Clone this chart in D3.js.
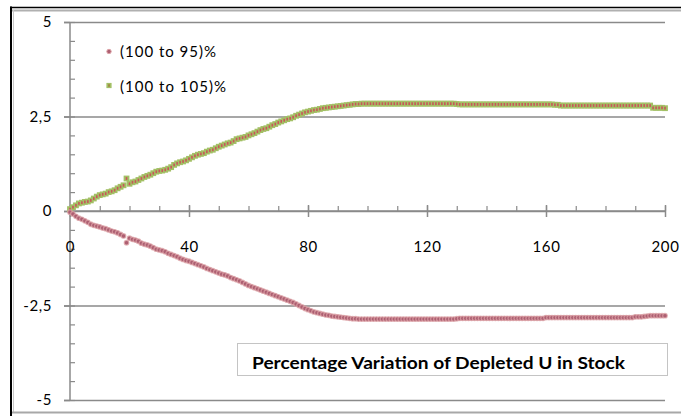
<!DOCTYPE html>
<html>
<head>
<meta charset="utf-8">
<script src="https://cdn.jsdelivr.net/npm/d3@7"></script>
<style>
  html, body { margin: 0; padding: 0; background: #fff; }
  svg { display: block; }
  text { font-family: Lato, "Open Sans", sans-serif; fill: #000; }
</style>
</head>
<body>
<svg id="chart" width="681" height="416"></svg>
<script>
// ---- data ----
const seriesNames = ["(100 to 95)%", "(100 to 105)%"];
const yTickValues = [-5, -2.5, 0, 2.5, 5];
const yTickLabels = ["-5", "-2,5", "0", "2,5", "5"];
const xTickValues = [0, 40, 80, 120, 160, 200];
const xTickLabels = ["0", "40", "80", "120", "160", "200"];
const titleText = "Percentage Variation of Depleted U in Stock";

// series "(100 to 95)%" (one value per step 0..200)
const down95 = [
  -0.03,-0.08,-0.14,-0.19,-0.22,-0.26,-0.30,-0.35,-0.38,-0.40,
  -0.42,-0.45,-0.47,-0.50,-0.53,-0.55,-0.58,-0.62,-0.66,-0.84,
  -0.72,-0.75,-0.77,-0.80,-0.85,-0.88,-0.90,-0.93,-0.97,-1.01,
  -1.03,-1.05,-1.08,-1.12,-1.15,-1.18,-1.21,-1.25,-1.28,-1.31,
  -1.33,-1.36,-1.39,-1.42,-1.45,-1.48,-1.52,-1.55,-1.58,-1.61,
  -1.64,-1.67,-1.69,-1.72,-1.76,-1.79,-1.82,-1.85,-1.89,-1.93,
  -1.97,-2.00,-2.03,-2.06,-2.09,-2.12,-2.15,-2.18,-2.21,-2.24,
  -2.27,-2.30,-2.33,-2.36,-2.39,-2.42,-2.46,-2.50,-2.54,-2.58,
  -2.61,-2.64,-2.67,-2.69,-2.71,-2.73,-2.75,-2.76,-2.78,-2.79,
  -2.80,-2.81,-2.82,-2.83,-2.84,-2.85,-2.85,-2.86,-2.86,-2.86,
  -2.86,-2.86,-2.86,-2.86,-2.86,-2.86,-2.86,-2.86,-2.86,-2.86,
  -2.86,-2.86,-2.86,-2.86,-2.86,-2.86,-2.86,-2.86,-2.86,-2.86,
  -2.86,-2.86,-2.86,-2.86,-2.86,-2.86,-2.86,-2.86,-2.86,-2.86,
  -2.85,-2.84,-2.84,-2.84,-2.84,-2.84,-2.84,-2.84,-2.84,-2.84,
  -2.84,-2.84,-2.84,-2.84,-2.84,-2.84,-2.84,-2.84,-2.84,-2.84,
  -2.84,-2.84,-2.84,-2.84,-2.84,-2.84,-2.84,-2.84,-2.84,-2.84,
  -2.82,-2.82,-2.82,-2.82,-2.82,-2.82,-2.82,-2.82,-2.82,-2.82,
  -2.82,-2.82,-2.82,-2.82,-2.82,-2.82,-2.82,-2.82,-2.82,-2.82,
  -2.82,-2.82,-2.82,-2.82,-2.82,-2.82,-2.82,-2.82,-2.82,-2.82,
  -2.80,-2.80,-2.80,-2.79,-2.78,-2.77,-2.77,-2.77,-2.77,-2.77,
  -2.77
];

// series "(100 to 105)%"
const up105 = [
  0.05,0.10,0.15,0.20,0.22,0.24,0.25,0.28,0.33,0.38,
  0.42,0.44,0.46,0.50,0.52,0.55,0.60,0.64,0.68,0.86,
  0.72,0.76,0.78,0.82,0.86,0.90,0.93,0.96,1.00,1.04,
  1.06,1.07,1.09,1.12,1.16,1.22,1.26,1.29,1.31,1.34,
  1.38,1.42,1.46,1.49,1.51,1.53,1.57,1.60,1.62,1.66,
  1.70,1.73,1.76,1.79,1.81,1.85,1.90,1.92,1.94,1.96,
  2.00,2.03,2.06,2.10,2.14,2.17,2.19,2.23,2.27,2.30,
  2.34,2.37,2.40,2.43,2.45,2.48,2.52,2.55,2.58,2.61,
  2.63,2.65,2.67,2.68,2.70,2.72,2.73,2.74,2.75,2.76,
  2.77,2.78,2.79,2.80,2.81,2.82,2.83,2.83,2.84,2.84,
  2.84,2.84,2.84,2.84,2.84,2.84,2.84,2.84,2.84,2.84,
  2.84,2.84,2.84,2.84,2.84,2.84,2.84,2.84,2.84,2.84,
  2.84,2.84,2.84,2.84,2.84,2.84,2.84,2.84,2.84,2.84,
  2.83,2.82,2.82,2.82,2.82,2.82,2.82,2.82,2.82,2.82,
  2.82,2.82,2.82,2.82,2.82,2.82,2.82,2.82,2.82,2.82,
  2.82,2.82,2.82,2.82,2.82,2.82,2.82,2.82,2.82,2.82,
  2.82,2.82,2.82,2.81,2.81,2.79,2.79,2.79,2.79,2.79,
  2.79,2.79,2.79,2.79,2.79,2.79,2.79,2.79,2.79,2.79,
  2.79,2.79,2.79,2.79,2.79,2.79,2.79,2.79,2.79,2.79,
  2.79,2.79,2.79,2.79,2.79,2.79,2.73,2.73,2.73,2.73,
  2.72
];

// ---- drawing ----
const svg = d3.select("#chart");
const x = d3.scaleLinear().domain([0, 200]).range([70, 665]);
const y = d3.scaleLinear().domain([-5, 5]).range([400, 22]);
const gray = "#8a8a8a";

// outer frame
svg.append("line").attr("x1", 11).attr("x2", 11).attr("y1", 6.5).attr("y2", 416)
  .attr("stroke", "#000").attr("stroke-width", 2);
svg.append("line").attr("x1", 10).attr("x2", 681).attr("y1", 7.5).attr("y2", 7.5)
  .attr("stroke", "#000").attr("stroke-width", 1.6);
svg.append("line").attr("x1", 12).attr("x2", 681).attr("y1", 10.5).attr("y2", 10.5)
  .attr("stroke", "#b0b0b0").attr("stroke-width", 2);
svg.append("line").attr("x1", 13.5).attr("x2", 13.5).attr("y1", 10).attr("y2", 413)
  .attr("stroke", "#c8c8c8").attr("stroke-width", 1);
svg.append("line").attr("x1", 12).attr("x2", 681).attr("y1", 412.5).attr("y2", 412.5)
  .attr("stroke", "#a8a8a8").attr("stroke-width", 2);

// gridlines (major y)
const grid = svg.append("g").attr("transform", `translate(${x(0)},0)`)
  .call(d3.axisRight(y).tickValues(yTickValues).tickSize(x(200) - x(0)).tickFormat(""));
grid.select(".domain").remove();
grid.selectAll(".tick line").attr("stroke", gray).attr("stroke-width", 1.5).attr("x1", -6);

// y axis
const yAxis = svg.append("g").attr("transform", `translate(${x(0)},0)`)
  .call(d3.axisLeft(y).tickValues(yTickValues).tickSize(6).tickPadding(12)
    .tickFormat((d, i) => yTickLabels[i]));
yAxis.select(".domain").attr("stroke", gray).attr("stroke-width", 1.5)
  .attr("d", `M0,${y(5)}V${y(-5)}`);
yAxis.selectAll(".tick line").attr("stroke", gray).attr("stroke-width", 1.5);
yAxis.selectAll(".tick text").style("font-size", "15px").style("letter-spacing", "0.6px")
  .attr("fill", "#000").style("font-family", "Lato, sans-serif");

// y minor ticks (inside, right)
const yMinor = svg.append("g").attr("transform", `translate(${x(0)},0)`)
  .call(d3.axisRight(y).tickValues(d3.range(-5, 5.01, 0.5)).tickSize(5).tickFormat(""));
yMinor.select(".domain").remove();
yMinor.selectAll(".tick line").attr("stroke", gray).attr("stroke-width", 1.2);

// x axis at y=0
const xAxis = svg.append("g").attr("transform", `translate(0,${y(0)})`)
  .call(d3.axisBottom(x).tickValues(xTickValues).tickSize(6).tickPadding(24)
    .tickFormat((d, i) => xTickLabels[i]));
xAxis.select(".domain").attr("stroke", gray).attr("stroke-width", 1.5)
  .attr("d", `M${x(0)},0H${x(200)}`);
xAxis.selectAll(".tick line").attr("stroke", gray).attr("stroke-width", 1.5).attr("y1", -6);
xAxis.selectAll(".tick text").style("font-size", "15px").style("letter-spacing", "0.6px")
  .attr("fill", "#000").style("font-family", "Lato, sans-serif");

// x minor ticks (above)
const xMinor = svg.append("g").attr("transform", `translate(0,${y(0)})`)
  .call(d3.axisTop(x).tickValues(d3.range(0, 201, 10)).tickSize(5).tickFormat(""));
xMinor.select(".domain").remove();
xMinor.selectAll(".tick line").attr("stroke", gray).attr("stroke-width", 1.2);

// series markers
const idx = d3.range(up105.length);
const gUp = svg.append("g");
gUp.selectAll("rect.o").data(idx).join("rect").attr("class", "o")
  .attr("x", i => x(i) - 2.9).attr("y", i => y(up105[i]) - 2.9)
  .attr("width", 5.8).attr("height", 5.8).attr("fill", "#a3c065");
gUp.selectAll("rect.c").data(idx).join("rect").attr("class", "c")
  .attr("x", i => x(i) - 0.8).attr("y", i => y(up105[i]) - 1.4)
  .attr("width", 1.6).attr("height", 2.8).attr("fill", "#c8575a");

const gDown = svg.append("g");
gDown.selectAll("circle").data(d3.range(down95.length)).join("circle")
  .attr("cx", i => x(i)).attr("cy", i => y(down95[i])).attr("r", 2.3)
  .attr("fill", "#ad5f72").attr("stroke", "#dca2a6").attr("stroke-opacity", 0.75)
  .attr("stroke-width", 1.2);

// legend
const leg = svg.append("g");
leg.append("circle").attr("cx", 109).attr("cy", 51.5).attr("r", 2.2)
  .attr("fill", "#ad5f72").attr("stroke", "#dca2a6").attr("stroke-width", 1);
leg.append("text").attr("x", 120).attr("y", 57).style("font-size", "15px")
  .attr("textLength", 96).attr("lengthAdjust", "spacing").text(seriesNames[0]);
leg.append("rect").attr("x", 106.4).attr("y", 82.9).attr("width", 5.2).attr("height", 5.2)
  .attr("fill", "#a3c065");
leg.append("rect").attr("x", 108.2).attr("y", 84.2).attr("width", 1.6).attr("height", 2.6)
  .attr("fill", "#a08040");
leg.append("text").attr("x", 120).attr("y", 91.5).style("font-size", "15px")
  .attr("textLength", 106).attr("lengthAdjust", "spacing").text(seriesNames[1]);

// title box
svg.append("rect").attr("x", 237.5).attr("y", 343.5).attr("width", 430).attr("height", 32)
  .attr("fill", "#fff").attr("stroke", "#c4c4c4").attr("stroke-width", 1);
svg.append("text").attr("x", 252).attr("y", 369).style("font-size", "17px")
  .style("font-weight", "bold").attr("textLength", 373).attr("lengthAdjust", "spacingAndGlyphs")
  .text(titleText);
</script>
</body>
</html>
